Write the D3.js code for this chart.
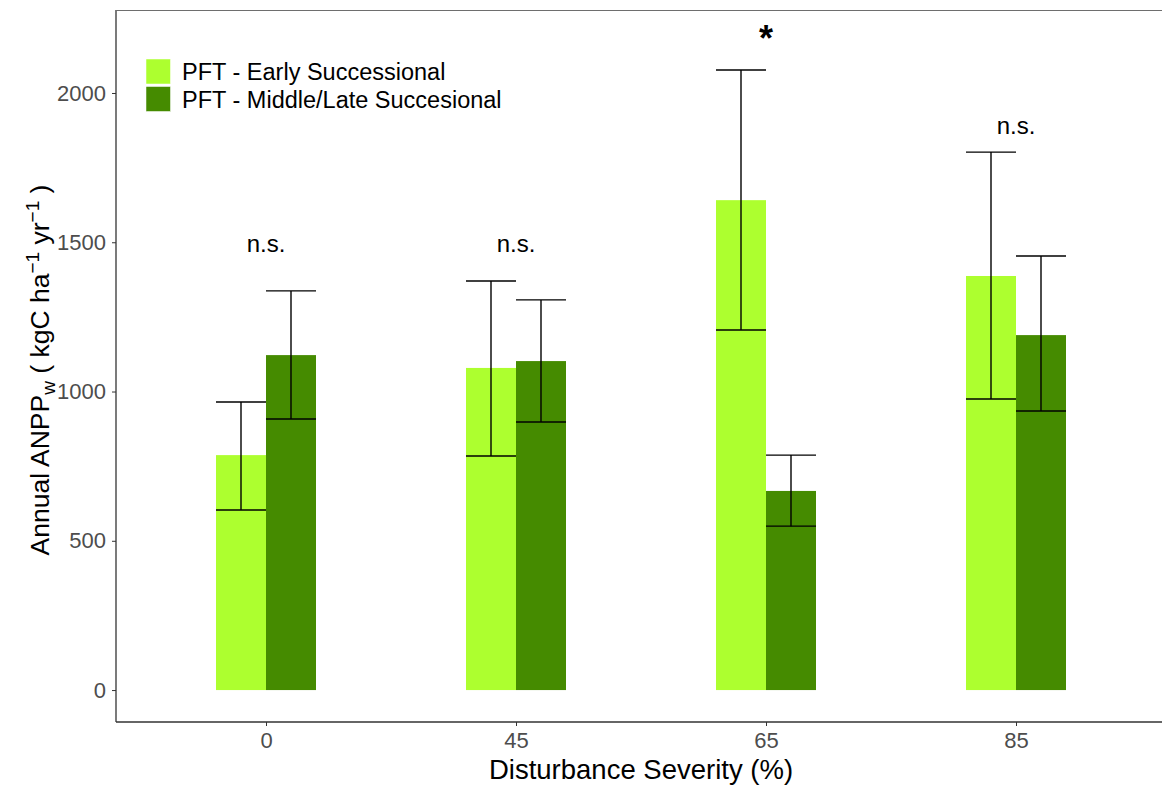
<!DOCTYPE html>
<html><head><meta charset="utf-8">
<script src="https://cdn.jsdelivr.net/npm/d3@7"></script>
<style>body{margin:0;background:#fff}svg{display:block}text{font-family:"Liberation Sans",Arial,sans-serif}</style>
</head><body>
<svg id="c" width="1162" height="787"></svg>
<script>
const categories = ["0", "45", "65", "85"];
const seriesNames = ["PFT - Early Successional", "PFT - Middle/Late Succesional"];
const earlyMean = [787, 1079, 1641, 1387];
const earlyLow  = [603, 784, 1206, 975];
const earlyHigh = [965, 1370, 2077, 1802];
const lateMean  = [1122, 1102, 667, 1189];
const lateLow   = [908, 898, 549, 935];
const lateHigh  = [1337, 1307, 787, 1454];
const sigLabels = ["n.s.", "n.s.", "*", "n.s."];
const sigY      = [1467, 1467, 2140, 1863];
const yTicks    = [0, 500, 1000, 1500, 2000];
const colors = ["#ADFF2F", "#458B00"];

const svg = d3.select("#c");
const L = 116, T = 10, B = 722, R = 1166;
const x = d3.scalePoint().domain(categories).range([L, R]).padding(0.6);
const step = x.step();
const xs = d3.scaleBand().domain(seriesNames).range([-0.2 * step, 0.2 * step]);
const y = d3.scaleLinear().domain([-107, 2278]).range([B, T]);

const data = [];
categories.forEach((c, i) => {
  data.push({c, s: seriesNames[0], m: earlyMean[i], lo: earlyLow[i], hi: earlyHigh[i], col: colors[0]});
  data.push({c, s: seriesNames[1], m: lateMean[i], lo: lateLow[i], hi: lateHigh[i], col: colors[1]});
});

// bars
svg.append("g").selectAll("rect").data(data).join("rect")
  .attr("x", d => x(d.c) + xs(d.s))
  .attr("width", xs.bandwidth())
  .attr("y", d => y(d.m))
  .attr("height", d => y(0) - y(d.m))
  .attr("fill", d => d.col);

// error bars
const eb = svg.append("g").attr("stroke", "#000").attr("stroke-width", 1.4).attr("fill", "none");
data.forEach(d => {
  const cx = x(d.c) + xs(d.s) + xs.bandwidth() / 2;
  const hw = xs.bandwidth() / 2;
  eb.append("line").attr("x1", cx).attr("x2", cx).attr("y1", y(d.lo)).attr("y2", y(d.hi));
  eb.append("line").attr("x1", cx - hw).attr("x2", cx + hw).attr("y1", y(d.lo)).attr("y2", y(d.lo));
  eb.append("line").attr("x1", cx - hw).attr("x2", cx + hw).attr("y1", y(d.hi)).attr("y2", y(d.hi));
});

// significance labels
svg.append("g").selectAll("text").data(categories).join("text")
  .attr("x", c => x(c))
  .attr("y", (c, i) => y(sigY[i]))
  .attr("text-anchor", "middle")
  .attr("font-size", (c, i) => sigLabels[i] === "*" ? 36 : 24)
  .attr("font-weight", (c, i) => sigLabels[i] === "*" ? "bold" : "normal")
  .attr("fill", "#000")
  .text((c, i) => sigLabels[i]);

// axes
const yAxis = svg.append("g").attr("transform", `translate(${L},0)`)
  .call(d3.axisLeft(y).tickValues(yTicks).tickSize(4).tickPadding(6).tickFormat(d3.format("d")));
yAxis.select(".domain").attr("d", `M0,${T}V${B}`).attr("stroke", "#333").attr("stroke-width", 1.3);
yAxis.selectAll(".tick line").attr("stroke", "#333");
yAxis.selectAll(".tick text").attr("font-size", 22).attr("fill", "#4d4d4d").attr("font-family", "Liberation Sans, Arial, sans-serif");

const xAxis = svg.append("g").attr("transform", `translate(0,${B})`)
  .call(d3.axisBottom(x).tickSize(4).tickPadding(6));
xAxis.select(".domain").attr("d", `M${L},0H1162`).attr("stroke", "#333").attr("stroke-width", 1.6);
xAxis.selectAll(".tick line").attr("stroke", "#333");
xAxis.selectAll(".tick text").attr("font-size", 22).attr("fill", "#4d4d4d").attr("font-family", "Liberation Sans, Arial, sans-serif");

// top border
svg.append("line").attr("x1", L).attr("x2", 1162).attr("y1", T + 0.5).attr("y2", T + 0.5)
  .attr("stroke", "#6e6e6e").attr("stroke-width", 1.2);

// axis titles
svg.append("text").attr("x", (L + R) / 2).attr("y", 779)
  .attr("text-anchor", "middle").attr("font-size", 27.5).attr("fill", "#000")
  .text("Disturbance Severity (%)");

const yt = svg.append("text").attr("transform", `translate(49,${(T + B) / 2 + 4}) rotate(-90)`)
  .attr("text-anchor", "middle").attr("font-size", 26.5).attr("fill", "#000");
yt.append("tspan").text("Annual ANPP");
yt.append("tspan").attr("font-size", 19).attr("dy", 6).text("w");
yt.append("tspan").attr("dy", -6).text(" ( kgC ha");
yt.append("tspan").attr("font-size", 19).attr("dy", -10).text("\u22121");
yt.append("tspan").attr("dy", 10).text(" yr");
yt.append("tspan").attr("font-size", 19).attr("dy", -10).text("\u22121");
yt.append("tspan").attr("dy", 10).text(" )");

// legend
const lg = svg.append("g").attr("transform", "translate(146,59)");
seriesNames.forEach((s, i) => {
  lg.append("rect").attr("x", 0).attr("y", i * 27.5).attr("width", 24.5).attr("height", 25)
    .attr("fill", colors[i]).attr("stroke", "#fff").attr("stroke-width", 0.5);
  lg.append("text").attr("x", 36).attr("y", i * 27.5 + 21).attr("font-size", 23.5)
    .attr("fill", "#000").text(s);
});
</script>
</body></html>
